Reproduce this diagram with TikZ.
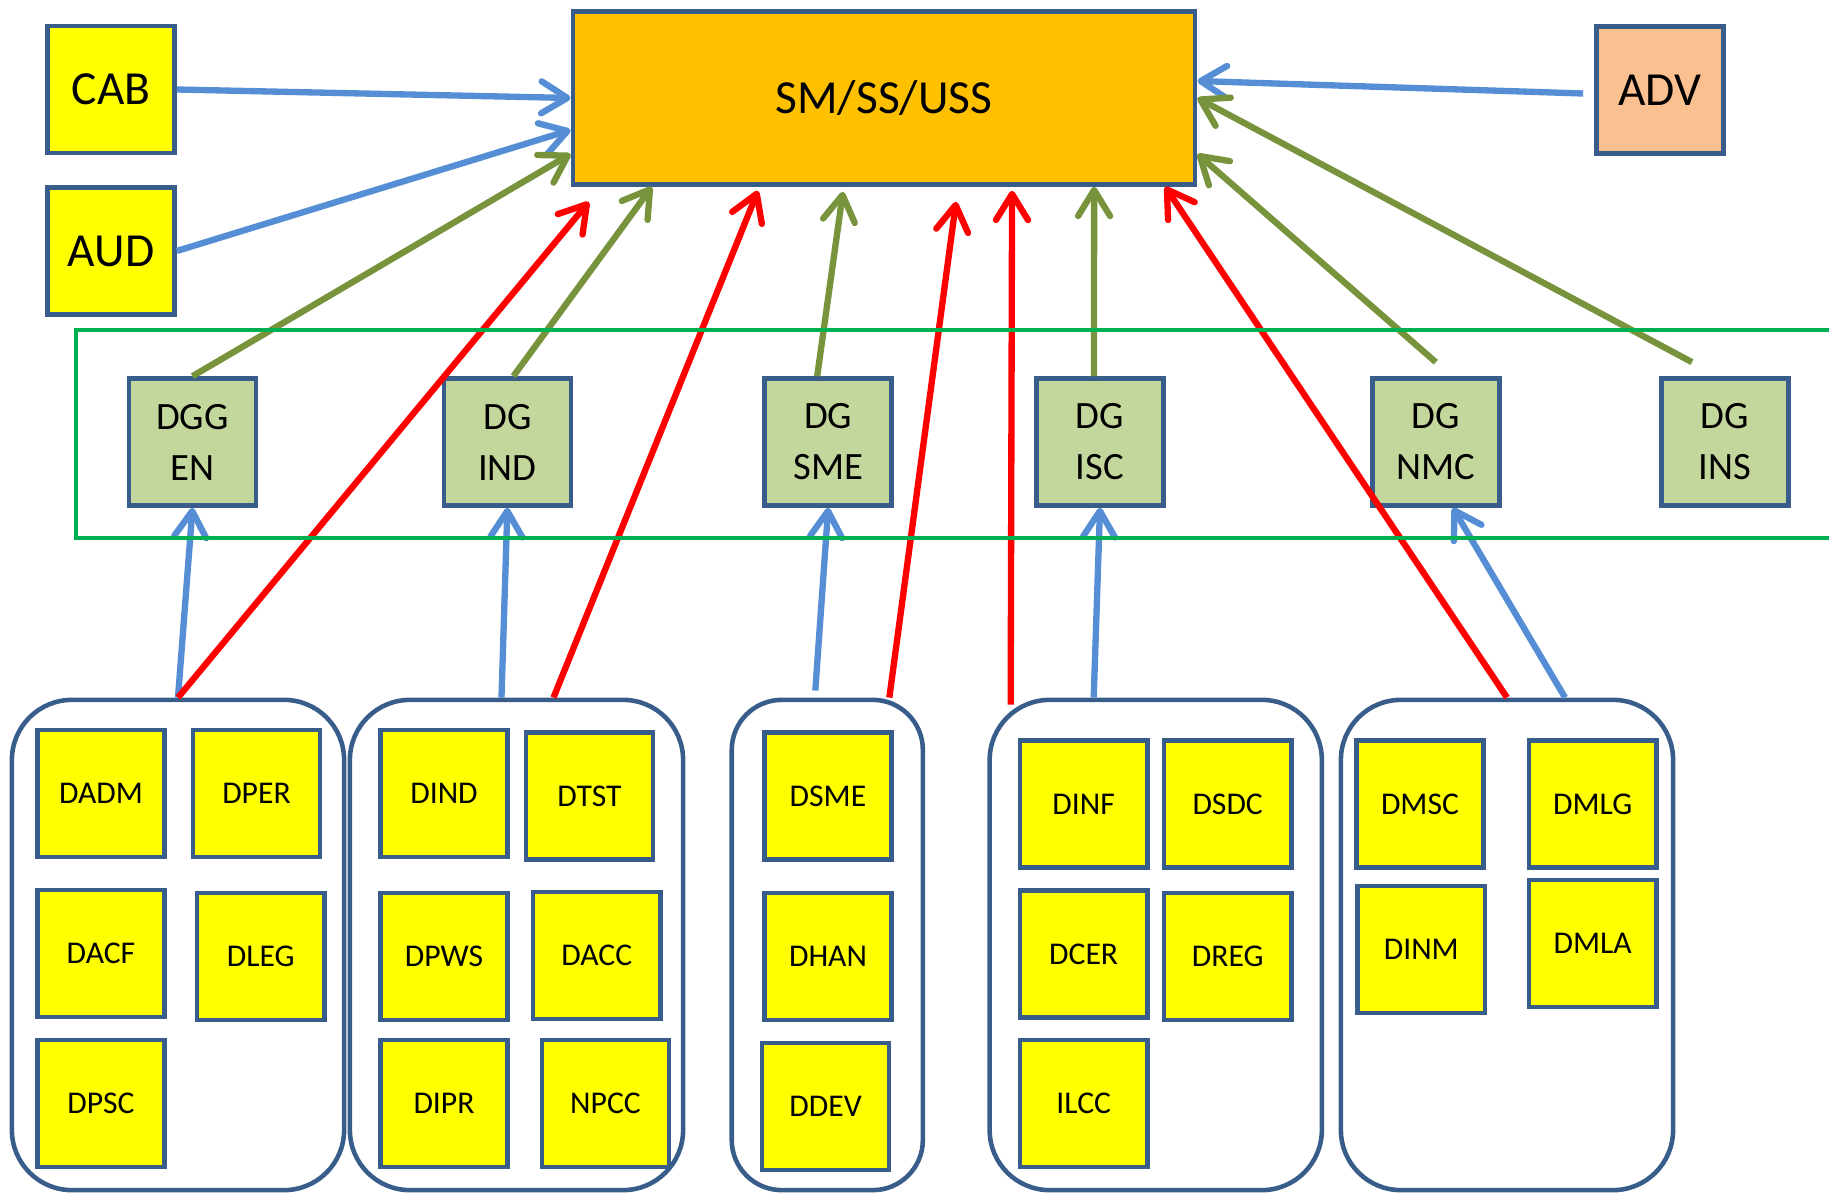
\documentclass[tikz,border=0pt]{standalone}
\usepackage{fontspec}
\setmainfont{Carlito}
\usetikzlibrary{arrows.meta}

\definecolor{boxline}{RGB}{56,93,138}
\definecolor{unitcol}{RGB}{255,255,0}
\definecolor{smcol}{RGB}{255,192,0}
\definecolor{advcol}{RGB}{250,192,144}
\definecolor{dgcol}{RGB}{195,214,155}
\definecolor{bandcol}{RGB}{0,176,80}
\definecolor{bluearr}{RGB}{85,142,213}
\definecolor{greenarr}{RGB}{119,147,60}
\definecolor{redarr}{RGB}{255,0,0}

\begin{document}
\begin{tikzpicture}[x=0.01cm, y=-0.01cm,
  box/.style={draw=boxline, line width=1.3pt, minimum size=1.27cm, inner sep=0pt},
  unit/.style={box, fill=unitcol, font=\fontsize{9}{11}\selectfont},
  topbox/.style={box, font=\fontsize{13.5}{16}\selectfont},
  dg/.style={box, fill=dgcol, align=center, font=\fontsize{11}{14.5}\selectfont},
  grp/.style={draw=boxline, line width=1.3pt, rounded corners=0.6cm, minimum height=4.9cm, inner sep=0pt},
  arr/.style={line width=1.8pt, -{Straight Barb[round, length=2.6mm, width=3.2mm]}}]
\useasboundingbox (0,0) rectangle (1829,1194);

\node[topbox, fill=unitcol] (CAB) at (111,89.5) {CAB};
\node[topbox, fill=unitcol] (AUD) at (111,251) {AUD};
\node[topbox, fill=smcol, minimum width=6.22cm, minimum height=1.73cm] (SM) at (884,98) {SM/SS/USS};
\node[topbox, fill=advcol] (ADV) at (1660,90) {ADV};

\node[dg] (DGGEN) at (192.5,442) {DGG\\EN};
\node[dg] (DGIND) at (507.4,442) {DG\\IND};
\node[dg] (DGSME) at (828.2,442) {DG\\SME};
\node[dg] (DGISC) at (1100,442) {DG\\ISC};
\node[dg] (DGNMC) at (1435.8,442) {DG\\NMC};
\node[dg] (DGINS) at (1725,442) {DG\\INS};

\node[grp, minimum width=3.32cm] (G1) at (178,945) {};
\node[grp, minimum width=3.33cm] (G2) at (516.5,945) {};
\node[grp, minimum width=1.91cm, rounded corners=0.5cm] (G3) at (827.3,945) {};
\node[grp, minimum width=3.32cm] (G4) at (1155.75,945) {};
\node[grp, minimum width=3.32cm] (G5) at (1507,945) {};

\node[unit] (DADM) at (101,793.5) {DADM};
\node[unit] (DPER) at (256.5,793.5) {DPER};
\node[unit] (DACF) at (101,953.5) {DACF};
\node[unit] (DLEG) at (260.7,956.5) {DLEG};
\node[unit] (DPSC) at (101,1103.5) {DPSC};

\node[unit] (DIND) at (444,793.5) {DIND};
\node[unit] (DTST) at (589.5,796) {DTST};
\node[unit] (DPWS) at (444,956.5) {DPWS};
\node[unit] (DACC) at (596.7,955.4) {DACC};
\node[unit] (DIPR) at (444,1103.5) {DIPR};
\node[unit] (NPCC) at (605.5,1103.5) {NPCC};

\node[unit] (DSME) at (828,796) {DSME};
\node[unit] (DHAN) at (828,956.5) {DHAN};
\node[unit] (DDEV) at (825.6,1106.5) {DDEV};

\node[unit] (DINF) at (1083.7,804) {DINF};
\node[unit] (DSDC) at (1227.7,804) {DSDC};
\node[unit] (DCER) at (1083.7,954) {DCER};
\node[unit] (DREG) at (1227.7,956.5) {DREG};
\node[unit] (ILCC) at (1083.7,1103.5) {ILCC};

\node[unit] (DMSC) at (1420,804) {DMSC};
\node[unit] (DMLG) at (1592.7,804) {DMLG};
\node[unit] (DINM) at (1421.3,949.5) {DINM};
\node[unit] (DMLA) at (1592.7,943.5) {DMLA};

\draw[arr, bluearr] (CAB.east) -- (SM.west);
\draw[arr, bluearr] (AUD.east) -- ([yshift=-0.32cm]SM.west);
\draw[arr, bluearr] ([xshift=-0.11cm,yshift=-0.035cm]ADV.west) -- ([yshift=0.17cm]SM.east);

\draw[arr, greenarr] (DGGEN.north) -- ([yshift=-0.56cm]SM.west);
\draw[arr, greenarr] ([xshift=0.06cm]DGIND.north) -- ([xshift=-2.32cm]SM.south);
\draw[arr, greenarr] ([xshift=-0.11cm]DGSME.north) -- ([xshift=-0.41cm,yshift=-0.05cm]SM.south);
\draw[arr, greenarr] ([xshift=-0.06cm]DGISC.north) -- ([xshift=2.1cm]SM.south);
\draw[arr, greenarr] ([yshift=0.14cm]DGNMC.north) -- ([yshift=-0.56cm]SM.east);
\draw[arr, greenarr] ([xshift=-0.33cm,yshift=0.14cm]DGINS.north) -- (SM.east);

\draw[arr, bluearr] (G1.north) -- (DGGEN.south);
\draw[arr, bluearr] ([xshift=-0.15cm]G2.north) -- (DGIND.south);
\draw[arr, bluearr] ([xshift=-0.12cm,yshift=0.07cm]G3.north) -- (DGSME.south);
\draw[arr, bluearr] ([xshift=-0.62cm]G4.north) -- (DGISC.south);
\draw[arr, bluearr] ([xshift=0.58cm]G5.north) -- ([xshift=0.17cm]DGNMC.south);

\draw[arr, redarr] (G1.north) -- ([xshift=-2.95cm,yshift=-0.15cm]SM.south);
\draw[arr, redarr] ([xshift=0.37cm]G2.north) -- ([xshift=-1.26cm,yshift=-0.04cm]SM.south);
\draw[arr, redarr] ([xshift=0.62cm]G3.north) -- ([xshift=0.72cm,yshift=-0.15cm]SM.south);
\draw[arr, redarr] ([xshift=-1.45cm,yshift=-0.07cm]G4.north) -- ([xshift=1.28cm,yshift=-0.04cm]SM.south);
\draw[arr, redarr] (G5.north) -- ([xshift=2.81cm]SM.south);

\draw[bandcol, line width=1.1pt] (76,330) rectangle (1850,538);
\end{tikzpicture}
\end{document}
